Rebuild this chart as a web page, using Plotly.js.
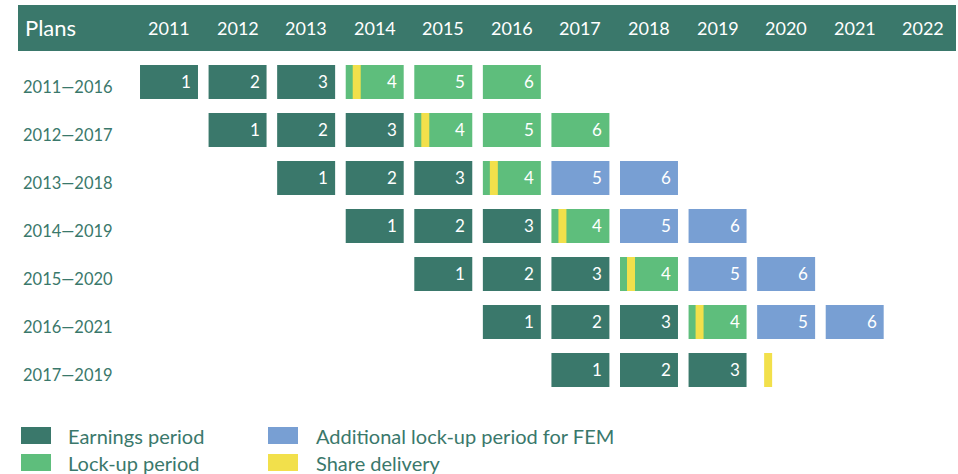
<!DOCTYPE html>
<html>
<head>
<meta charset="utf-8">
<script src="https://cdn.plot.ly/plotly-3.0.1.min.js"></script>
<style>html,body{margin:0;padding:0;background:#fff;}#chart{width:958px;height:474px;}</style>
</head>
<body>
<div id="chart"></div>
<script>
// ---- data ----
const plans = ['2011—2016','2012—2017','2013—2018','2014—2019','2015—2020','2016—2021','2017—2019'];
const years = [2011,2012,2013,2014,2015,2016,2017,2018,2019,2020,2021,2022];
const planStart = [2011,2012,2013,2014,2015,2016,2017];
const earningsYears = [3,3,3,3,3,3,3];
const lockupYears = [3,3,1,1,1,1,0];
const femYears = [0,0,2,2,2,2,0];
const deliveryAfter = [3,3,3,3,3,3,3];
const legendLabels = ['Earnings period','Lock-up period','Additional lock-up period for FEM','Share delivery'];

// ---- styles ----
const C = {earn:'#3a786b', lock:'#5ebe7c', fem:'#789fd3', deliv:'#f2e04b'};
const FONT = 'Lato, "Open Sans", sans-serif';
const W = 958, H = 474;
const cellW = 0.8455;      // fraction of a year occupied by a cell
const half = cellW/2;
const delivOff = 0.102, delivW = 0.1167;

const cells = {earn:{y:[],base:[],x:[]}, lock:{y:[],base:[],x:[]}, fem:{y:[],base:[],x:[]}, deliv:{y:[],base:[],x:[]}};
const annotations = [];
plans.forEach((p,i)=>{
  const total = earningsYears[i]+lockupYears[i]+femYears[i];
  for(let k=0;k<total;k++){
    const yr = planStart[i]+k;
    const t = k<earningsYears[i] ? 'earn' : (k<earningsYears[i]+lockupYears[i] ? 'lock' : 'fem');
    cells[t].y.push(p); cells[t].base.push(yr-half); cells[t].x.push(cellW);
    annotations.push({x:yr+half, y:p, xref:'x', yref:'y', text:String(k+1), showarrow:false,
      xanchor:'right', yanchor:'middle', xshift:-5, yshift:1, font:{family:FONT,size:17,color:'#ffffff'}});
  }
  const dy = planStart[i]+deliveryAfter[i];
  cells.deliv.y.push(p); cells.deliv.base.push(dy-half+delivOff); cells.deliv.x.push(delivW);
  annotations.push({x:21/W, xref:'paper', y:p, yref:'y', text:p, showarrow:false, xanchor:'left',
    yanchor:'middle', yshift:-5, font:{family:FONT,size:16.5,color:C.earn}});
});

const traces = ['earn','lock','fem','deliv'].map(t=>({
  type:'bar', orientation:'h', y:cells[t].y, base:cells[t].base, x:cells[t].x,
  width:0.708, marker:{color:C[t], line:{width:0}}, hoverinfo:'skip', showlegend:false
}));

// header
const shapes = [{type:'rect', xref:'paper', yref:'paper', x0:18/W, x1:956/W, y0:1-51/H, y1:1-5/H,
  fillcolor:C.earn, line:{width:0}, layer:'below'}];
annotations.push({x:23/W, xref:'paper', y:1-28/H, yref:'paper', text:'Plans', showarrow:false,
  xanchor:'left', yanchor:'middle', font:{family:FONT,size:22,color:'#ffffff'}});
years.forEach(y=>annotations.push({x:y, xref:'x', y:1-28.5/H, yref:'paper', text:String(y), showarrow:false,
  xanchor:'center', yanchor:'middle', font:{family:FONT,size:18,color:'#ffffff'}}));

// legend
const legCols = [C.earn, C.lock, C.fem, C.deliv];
const legX = [21, 21, 268, 268], legTextX = [66, 66, 314, 314], legY = [435.5, 462.5, 435.5, 462.5];
legendLabels.forEach((lab,i)=>{
  shapes.push({type:'rect', xref:'paper', yref:'paper', x0:legX[i]/W, x1:(legX[i]+30)/W,
    y0:1-(legY[i]+8.5)/H, y1:1-(legY[i]-8.5)/H, fillcolor:legCols[i], line:{width:0}});
  annotations.push({x:legTextX[i]/W, xref:'paper', y:1-(legY[i]+0.5)/H, yref:'paper', text:lab, showarrow:false,
    xanchor:'left', yanchor:'middle', font:{family:FONT,size:20,color:C.earn}});
});

const layout = {
  width:W, height:H, margin:{l:0,r:0,t:0,b:0}, paper_bgcolor:'#ffffff', plot_bgcolor:'#ffffff',
  barmode:'overlay', showlegend:false,
  xaxis:{range:[2011-169/68.57, 2011+(W-169)/68.57], visible:false, fixedrange:true},
  yaxis:{type:'category', categoryarray:plans, categoryorder:'array', range:[(H-82)/48, -82/48], visible:false, fixedrange:true},
  shapes:shapes, annotations:annotations
};
Plotly.newPlot('chart', traces, layout, {displayModeBar:false, staticPlot:true});
</script>
</body>
</html>
